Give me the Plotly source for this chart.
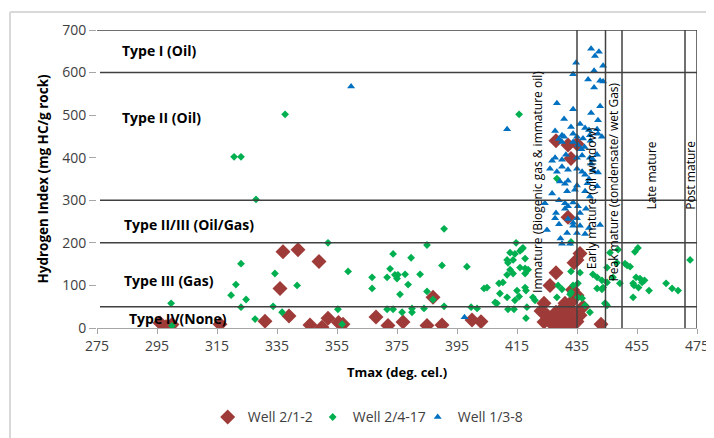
import plotly.graph_objects as go

# ---------------- data ----------------
well_212_tmax = [296, 298, 300, 316, 331, 336, 337, 339, 342, 346, 349, 350, 352, 355.5, 357,
                 368, 372, 377, 385, 387, 390, 400, 403,
                 424, 424, 425, 426, 427, 428, 428, 430, 431, 432, 433, 433, 435, 434, 436, 435,
                 443, 428, 432, 435, 433, 432,
                 429, 431, 434, 436, 430, 426, 433, 437, 423, 427, 431, 435, 429, 433.5]
well_212_hi = [12, 3, 8, 9, 16, 93, 179, 28, 184, 7, 156, 2, 23, 13, 9,
               26, 6, 14, 6, 72, 7, 19, 15,
               14, 58, 30, 100, 7, 37, 130, 14, 58, 26, 60, 42, 77, 153, 175, 160,
               9, 440, 430, 432, 398, 260,
               20, 5, 10, 30, 45, 20, 5, 50, 40, 22, 35, 15, 3, 90]

well_2417_tmax = [299.7, 300, 319.7, 320.7, 321.3, 323, 323, 323, 324.7, 327.7, 328, 333.7, 334.3, 336.7, 337.7,
                  341.7, 352, 355.3, 356.7, 358.7,
                  366.7, 366.7, 371.7, 372.7, 373.7, 374.3, 375.3, 375, 376, 377.7, 378.7, 379.7, 382.7, 385,
                  385, 387, 390, 390.7, 390.7, 371.7, 373.7, 376.7, 380, 380, 384, 398.3, 399.7, 401.7, 404, 405,
                  407.7, 408.3, 409, 410.3, 411.7, 412, 411.7, 412.7, 414.7, 414.3, 416, 416.7, 417.7, 417.7,
                  417.7, 415, 417.7, 418, 415.7, 414.3, 411.7, 412, 414, 418, 418.3, 420.3, 421, 409.3, 413.7,
                  412.7, 418.7, 416, 413.7, 415.7, 417,
                  428.7, 430, 433, 433.7, 432.7, 435.3, 435.3, 436, 437.7, 439.3, 440.3, 441.7, 443.3, 441.7,
                  444.3, 436.7, 433, 428.3, 428.3, 433,
                  445, 445, 446, 445, 448.3, 449.3, 451, 451.7, 453.7, 454.3, 455.3, 456, 456.7, 453.7, 459,
                  464.7, 466.7, 468.7, 472.7, 454.7, 448.7, 452.7, 443.3, 443.7, 447, 444.7, 454, 455.5, 457.5]
well_2417_hi = [58, 5, 77, 402, 102, 402, 151, 49, 67, 21, 302, 51, 128, 37, 502,
                100, 200, 44, 9, 133,
                119, 93, 119, 139, 174, 125, 125, 116, 79, 126, 102, 165, 126, 195,
                86, 67, 147, 233, 51, 44, 44, 37, 46, 37, 46, 144, 49, 46, 93, 95,
                60, 58, 105, 107, 125, 153, 160, 177, 200, 174, 181, 186, 163, 140,
                128, 88, 95, 88, 74, 65, 72, 44, 44, 23, 49, 72, 65, 81, 128,
                137, 137, 142, 160, 502, 188,
                100, 91, 133, 100, 79, 105, 72, 130, 53, 37, 126, 93, 91, 119,
                58, 70, 84, 72, 351, 202,
                53, 107, 177, 142, 153, 105, 151, 147, 105, 179, 188, 116, 107, 72, 88,
                105, 93, 88, 160, 119, 184, 144, 112, 95, 119, 56, 100, 95, 112]

well_138_tmax = [359.7, 397.5, 411.7,
                 439.7, 442.3, 441, 434.7, 443.7, 433.7, 440.7, 438.7, 442.7, 443.7, 440.7,
                 428.3, 433.7, 442.7, 439.7, 430.7, 442, 436, 433, 437.7, 439, 441.7, 427.7, 430, 430.7,
                 433.7, 435, 439.3, 443.3, 442, 437, 439.5,
                 433.7, 435.3, 430, 429, 436.5, 437.5, 427.7, 431.3, 435, 436.7, 439.3, 440.3, 441.7,
                 439.7, 426.7, 430,
                 426, 428.3, 430, 432, 435, 436.7, 440.3, 442, 429.3, 431, 432, 435, 441.7, 439, 437.7, 438.5,
                 426.7, 431.7, 434.3, 437.7, 439.3, 424.3, 431, 432, 429, 433.7, 435.3, 436, 435, 438,
                 427.7, 429, 431.7, 433.7, 432, 433.7, 435, 437.7, 442.7, 430, 432.7, 429.5, 431, 428,
                 425, 439, 436]
well_138_hi = [567, 25, 467,
               656, 649, 639, 623, 616, 596, 604, 584, 581, 579, 565,
               528, 514, 521, 505, 491, 488, 479, 472, 470, 465, 467, 463, 453, 449,
               456, 449, 453, 449, 456, 445, 440,
               437, 430, 437, 444, 420, 425, 400, 407, 400, 405, 400, 396, 407,
               386, 393, 395,
               374, 367, 379, 372, 374, 367, 370, 365, 344, 339, 346, 335, 333, 350, 360, 340,
               316, 321, 325, 321, 309, 293, 293, 286, 300, 295, 286, 270, 258, 280,
               258, 244, 223, 240, 256, 247, 223, 221, 242, 198, 198, 210, 280, 270,
               230, 235, 240]

x_ticks = [275, 295, 315, 335, 355, 375, 395, 415, 435, 455, 475]
y_ticks = [0, 100, 200, 300, 400, 500, 600, 700]

hi_boundaries = [600, 300, 200, 50]
tmax_boundaries = [435, 444.5, 450, 471, 475]

kerogen_labels = ["Type I (Oil)", "Type II (Oil)", "Type II/III (Oil/Gas)", "Type III (Gas)", "Type IV(None)"]
kerogen_label_hi = [652, 495, 242, 112, 23]
kerogen_label_tmax = [282.7, 282.7, 283.3, 283.3, 285]

maturity_labels = ["Immature (Biogenic gas & immature oil)", "Early mature (oil window)",
                   "Peak mature (condensate/ wet Gas)", "Late mature", "Post mature"]
maturity_label_tmax = [421.8, 439.7, 447.3, 460, 472.7]
maturity_label_hi = [344, 305, 344, 358, 358]

# ---------------- figure ----------------
FONT = "Open Sans"
fig = go.Figure()

fig.add_trace(go.Scatter(x=well_212_tmax, y=well_212_hi, mode="markers", name="Well 2/1-2",
                         marker=dict(symbol="diamond", size=11.5, color="#9E3B38")))
fig.add_trace(go.Scatter(x=well_2417_tmax, y=well_2417_hi, mode="markers", name="Well 2/4-17",
                         marker=dict(symbol="diamond", size=6, color="#00B050")))
fig.add_trace(go.Scatter(x=well_138_tmax, y=well_138_hi, mode="markers", name="Well 1/3-8",
                         marker=dict(symbol="triangle-up", size=7, color="#0070C0")))

shapes = []
shapes.append(dict(type="line", xref="x", yref="y", x0=275, x1=475, y0=700, y1=700,
                   line=dict(color="#404040", width=1.5), layer="above"))
for h in hi_boundaries:
    shapes.append(dict(type="line", xref="x", yref="y", x0=276, x1=475, y0=h, y1=h,
                       line=dict(color="#404040", width=1.5), layer="above"))
for t in tmax_boundaries:
    shapes.append(dict(type="line", xref="x", yref="y", x0=t, x1=t, y0=0, y1=700,
                       line=dict(color="#404040", width=1.5), layer="above"))
# outer chart frame (top & left edges visible)
shapes.append(dict(type="line", xref="paper", yref="paper", x0=-0.145, x1=1.1, y0=1.06, y1=1.06,
                   line=dict(color="#D9D9D9", width=2)))
shapes.append(dict(type="line", xref="paper", yref="paper", x0=-0.145, x1=-0.145, y0=-0.5, y1=1.06,
                   line=dict(color="#D9D9D9", width=2)))

annotations = []
for txt, tx, hy in zip(kerogen_labels, kerogen_label_tmax, kerogen_label_hi):
    annotations.append(dict(x=tx, y=hy, xref="x", yref="y", text="<b>%s</b>" % txt, showarrow=False,
                            xanchor="left", yanchor="middle",
                            font=dict(family=FONT, size=14, color="#000000")))
for txt, tx, hy in zip(maturity_labels, maturity_label_tmax, maturity_label_hi):
    annotations.append(dict(x=tx, y=hy, xref="x", yref="y", text=txt, showarrow=False,
                            textangle=-90, xanchor="center", yanchor="middle",
                            font=dict(family=FONT, size=12, color="#000000")))

# the page body has an 8px margin, so the figure's origin sits at (8, 8) in the window
fig.update_layout(
    width=714, height=438,
    margin=dict(l=89, r=25, t=19, b=118),
    paper_bgcolor="white", plot_bgcolor="white",
    font=dict(family=FONT, size=14, color="#404040"),
    shapes=shapes, annotations=annotations,
    showlegend=True,
    legend=dict(orientation="h", x=0.447, xanchor="center", y=-0.30, yanchor="middle",
                entrywidth=60, entrywidthmode="pixels",
                font=dict(family=FONT, size=14, color="#404040"), itemsizing="trace"),
    xaxis=dict(range=[275, 475], tickvals=x_ticks, showgrid=False, zeroline=False,
               showline=True, linecolor="#A6A6A6", linewidth=1,
               ticks="outside", ticklen=5, tickcolor="#A6A6A6",
               tickfont=dict(family=FONT, size=14, color="#404040"),
               title=dict(text="<b>Tmax (deg. cel.)</b>", standoff=14,
                          font=dict(family=FONT, size=13, color="#000000"))),
    yaxis=dict(range=[0, 700], tickvals=y_ticks, showgrid=False, zeroline=False,
               showline=False, ticks="outside", ticklen=7, tickcolor="#A6A6A6",
               tickfont=dict(family=FONT, size=14, color="#404040"),
               title=dict(text="<b>Hydrogen Index (mg HC/g rock)</b>", standoff=10,
                          font=dict(family=FONT, size=13.5, color="#000000"))),
)

fig.write_html("out.html")
